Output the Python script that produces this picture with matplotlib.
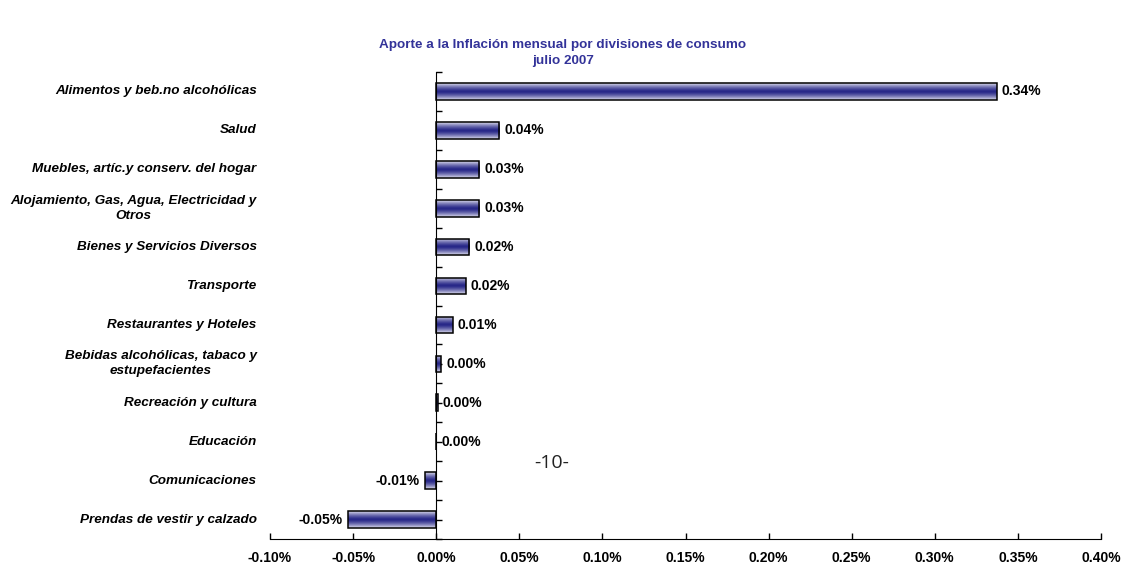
import numpy as np
import matplotlib
matplotlib.use("Agg")
import matplotlib.pyplot as plt
import matplotlib.transforms as mtransforms
from matplotlib.ticker import FuncFormatter, FixedLocator

plt.rcParams['font.family'] = ['Liberation Sans', 'DejaVu Sans']

# datos (aporte en puntos porcentuales)
categorias = [
    "Alimentos y beb.no alcohólicas",
    "Salud",
    "Muebles, artíc.y conserv. del hogar",
    "Alojamiento, Gas, Agua, Electricidad y\nOtros",
    "Bienes y Servicios Diversos",
    "Transporte",
    "Restaurantes y Hoteles",
    "Bebidas alcohólicas, tabaco y\nestupefacientes",
    "Recreación y cultura",
    "Educación",
    "Comunicaciones",
    "Prendas de vestir y calzado",
]
aportes = [0.3375, 0.038, 0.026, 0.026, 0.020, 0.018, 0.010, 0.003, 0.001, 0.0, -0.0068, -0.053]
titulo = "Aporte a la Inflación mensual por divisiones de consumo\njulio 2007"
xticks = [-0.10, -0.05, 0.0, 0.05, 0.10, 0.15, 0.20, 0.25, 0.30, 0.35, 0.40]

n = len(categorias)
ypos = np.arange(n)
alto = 0.43
fs = 10

fig = plt.figure(figsize=(11.26, 5.64), dpi=100)
ax = fig.add_axes([270 / 1126, 1 - 539 / 564, (1101 - 270) / 1126, (539 - 72) / 564])

# degradado tipo cilindro (claro en bordes, oscuro al centro)
t = np.linspace(0, 1, 64)
w = 1 - np.abs(2 * t - 1) ** 1.4
claro = np.array([222, 222, 238]) / 255
oscuro = np.array([38, 38, 135]) / 255
grad = claro[None, :] * (1 - w[:, None]) + oscuro[None, :] * w[:, None]
grad = grad[:, None, :]

barras = ax.barh(ypos, aportes, height=alto, facecolor='none', edgecolor='black',
                 linewidth=1.1, zorder=3)
for b, v, y in zip(barras, aportes, ypos):
    if v == 0:
        continue
    im = ax.imshow(grad, extent=[0, v, y + alto / 2, y - alto / 2], aspect='auto',
                   interpolation='bilinear', zorder=2)
    im.set_clip_path(b)

ax.set_xlim(-0.10, 0.40)
ax.set_ylim(n - 0.5, -0.5)

# etiquetas de valor
for v, y in zip(aportes, ypos):
    txt = f"{abs(v):.2f}%" if round(v, 2) == 0 else f"{v:.2f}%"
    if v < 0:
        ax.annotate(txt, (v, y), xytext=(-4, 0), textcoords='offset points',
                    ha='right', va='center', fontsize=fs, fontweight='bold')
    else:
        ax.annotate(txt, (v, y), xytext=(3.5, 0), textcoords='offset points',
                    ha='left', va='center', fontsize=fs, fontweight='bold')

# nombres de categorías
trans = mtransforms.blended_transform_factory(ax.transAxes, ax.transData)
for c, y in zip(categorias, ypos):
    ax.text(-0.016, y, c, transform=trans, ha='right', va='center', fontsize=9.7,
            fontweight='bold', fontstyle='italic', multialignment='center',
            linespacing=1.35)

# ejes
for s in ['top', 'right']:
    ax.spines[s].set_visible(False)
ax.spines['left'].set_position(('data', 0))
ax.yaxis.set_major_locator(FixedLocator(list(ypos)))
ax.yaxis.set_minor_locator(FixedLocator(list(np.arange(-0.5, n, 1.0))))
ax.tick_params(axis='y', which='both', direction='in', length=4, width=1,
               labelleft=False)
ax.set_xticks(xticks)
ax.xaxis.set_major_formatter(FuncFormatter(lambda x, p: f"{x:.2f}%" if abs(x) > 1e-9 else "0.00%"))
ax.tick_params(axis='x', direction='in', length=4, width=1, pad=9, labelsize=fs)
for lb in ax.get_xticklabels():
    lb.set_fontweight('bold')

fig.text(0.5, 1 - 53 / 564, titulo, ha='center', va='center', fontsize=9.7,
         fontweight='bold', color='#333399', linespacing=1.45)
fig.text(552 / 1126, 1 - 463 / 564, "-10-", ha='center', va='center', fontsize=14,
         family=['Open Sans', 'DejaVu Sans'], color='#222222')

fig.savefig("out.png", dpi=100)
